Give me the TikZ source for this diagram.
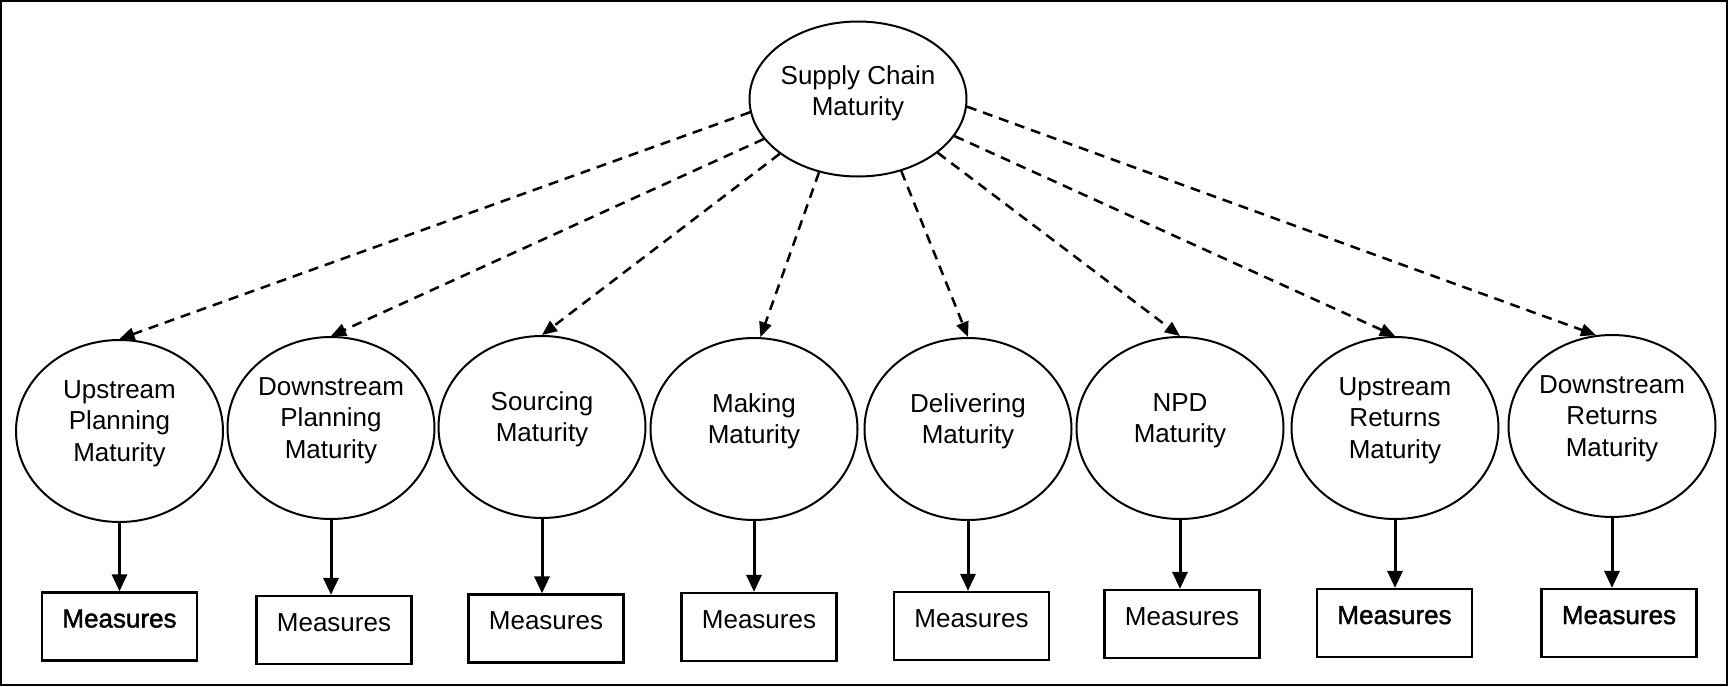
\documentclass[tikz,border=0pt]{standalone}
\usepackage{fontspec}
\setmainfont{Liberation Sans}
\newfontfamily\heavyfont{Liberation Sans}[FakeBold=1.6]
\usetikzlibrary{shapes.geometric,arrows.meta}

\begin{document}
\begin{tikzpicture}[x=0.4pt,y=-0.4pt,font=\fontsize{10.4}{12.6}\selectfont,
  maturity/.style={ellipse,draw,line width=0.8pt,minimum width=82.8pt,minimum height=72.8pt,inner sep=0pt},
  txt/.style={align=center,yshift=3pt},
  measure/.style={rectangle,draw,line width=0.9pt,minimum width=62pt,minimum height=27.2pt,inner sep=0pt,text height=7.5pt,text depth=6.7pt},
  link/.style={dash pattern=on 4pt off 2.8pt,line width=1pt,-{Triangle[length=6pt,width=5pt]}},
  feed/.style={line width=1.2pt,-{Triangle[length=6.8pt,width=6pt]}}]
  \useasboundingbox (0,0) rectangle (1729,687);
  % Frame
  \draw[line width=0.6pt] (1,1) rectangle (1727,685);

  % Top construct
  \node[maturity,minimum width=86.8pt,minimum height=62pt,label={[txt,yshift=-0.7pt]center:Supply Chain\\Maturity}] (scm) at (858,99) {};

  % Dimensions
  \node[maturity,label={[txt]center:Upstream\\Planning\\Maturity}] (upm) at (119.5,431) {};
  \node[maturity,label={[txt]center:Downstream\\Planning\\Maturity}] (dpm) at (331,428) {};
  \node[maturity,label={[txt]center:Sourcing\\Maturity}] (som) at (542,427) {};
  \node[maturity,label={[txt]center:Making\\Maturity}] (mam) at (754,429) {};
  \node[maturity,label={[txt]center:Delivering\\Maturity}] (dem) at (968,429) {};
  \node[maturity,label={[txt]center:NPD\\Maturity}] (npd) at (1180,428) {};
  \node[maturity,label={[txt]center:Upstream\\Returns\\Maturity}] (urm) at (1395,428) {};
  \node[maturity,label={[txt]center:Downstream\\Returns\\Maturity}] (drm) at (1612,426) {};

  % Measures
  \node[measure] (upmx) at (119.5,626.5) {\heavyfont Measures};
  \node[measure] (dpmx) at (334,630) {Measures};
  \node[measure] (somx) at (546,628.5) {Measures};
  \node[measure] (mamx) at (759,627) {Measures};
  \node[measure] (demx) at (971.5,626) {Measures};
  \node[measure] (npdx) at (1182,624) {Measures};
  \node[measure] (urmx) at (1394.5,623) {\heavyfont Measures};
  \node[measure] (drmx) at (1619,623) {\heavyfont Measures};

  % Dashed links from the top
  \draw[link] (scm.187) -- (upm.north);
  \draw[link] (scm.203) -- (dpm.north);
  \draw[link] (scm.215) -- (som.north);
  \draw[link] (scm.242) -- (mam.86);
  \draw[link] (scm.301) -- (dem.north);
  \draw[link] (scm.326) -- (npd.north);
  \draw[link] (scm.339) -- (urm.north);
  \draw[link] (scm.356) -- (drm.100);

  % Solid arrows to measures
  \draw[feed] (upm.south) -- (upm.south |- upmx.north);
  \draw[feed] (dpm.south) -- (dpm.south |- dpmx.north);
  \draw[feed] (som.south) -- (som.south |- somx.north);
  \draw[feed] (mam.south) -- (mam.south |- mamx.north);
  \draw[feed] (dem.south) -- (dem.south |- demx.north);
  \draw[feed] (npd.south) -- (npd.south |- npdx.north);
  \draw[feed] (urm.south) -- (urm.south |- urmx.north);
  \draw[feed] (drm.south) -- (drm.south |- drmx.north);
\end{tikzpicture}
\end{document}
